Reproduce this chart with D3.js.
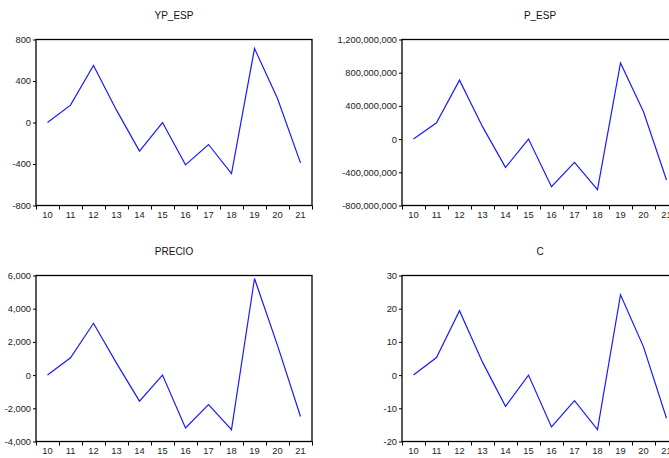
<!DOCTYPE html>
<html>
<head>
<meta charset="utf-8">
<script src="https://cdn.jsdelivr.net/npm/d3@7"></script>
<style>
  html, body { margin: 0; padding: 0; background: #fff; }
  svg { display: block; font-family: "Liberation Sans", Arial, sans-serif; }
</style>
</head>
<body>
<svg id="chart" width="669" height="458"></svg>
<script>
const categories = ["10","11","12","13","14","15","16","17","18","19","20","21"];

const ypEsp  = [0, 167, 549, 119, -276, 0, -408, -212, -492, 713, 231, -389];
const pEsp   = [0, 196e6, 710e6, 150e6, -341e6, 0, -573e6, -281e6, -610e6, 918e6, 329e6, -493e6];
const precio = [0, 1047, 3122, 720, -1571, 0, -3182, -1772, -3283, 5820, 1790, -2497];
const cVals  = [0, 5.3, 19.4, 3.9, -9.4, 0, -15.6, -7.7, -16.4, 24.2, 8.5, -13.0];

const ypTicks     = [-800, -400, 0, 400, 800];
const pTicks      = [-800e6, -400e6, 0, 400e6, 800e6, 1200e6];
const precioTicks = [-4000, -2000, 0, 2000, 4000, 6000];
const cTicks      = [-20, -10, 0, 10, 20, 30];

const panels = [
  { title: "YP_ESP", values: ypEsp,  ticks: ypTicks,     x: 36,  y: 39.5 },
  { title: "P_ESP",  values: pEsp,   ticks: pTicks,      x: 402, y: 39.5 },
  { title: "PRECIO", values: precio, ticks: precioTicks, x: 36,  y: 275.5 },
  { title: "C",      values: cVals,  ticks: cTicks,      x: 402, y: 275.5 }
];

const W = 276, H = 166;
const svg = d3.select("#chart");
const fmt = d => d3.format(",")(d).replace("\u2212", "-");

panels.forEach(p => {
  const g = svg.append("g").attr("transform", `translate(${p.x},${p.y})`);
  const xb = d3.scaleBand().domain(categories).range([0, W]);
  const xl = d3.scaleLinear().domain([0, categories.length]).range([0, W]);
  const y = d3.scaleLinear().domain([p.ticks[0], p.ticks[p.ticks.length - 1]]).range([H, 0]);

  // title
  g.append("text").attr("x", W / 2).attr("y", -21)
    .attr("text-anchor", "middle").attr("font-size", 10).attr("fill", "#111")
    .text(p.title);

  // line
  const line = d3.line()
    .x((d, i) => xb(categories[i]) + xb.bandwidth() / 2)
    .y(d => y(d));
  g.append("path").datum(p.values)
    .attr("d", line).attr("fill", "none")
    .attr("stroke", "#1a1aff").attr("stroke-width", 1.2)
    .attr("stroke-linejoin", "miter");

  // y axis
  const ya = g.append("g").call(d3.axisLeft(y).tickValues(p.ticks).tickFormat(fmt).tickSize(3).tickPadding(2));
  ya.select(".domain").remove();
  ya.selectAll("line").attr("stroke", "#000").attr("stroke-width", 1);
  ya.selectAll("text").attr("font-size", 9.3).attr("fill", "#222").attr("font-family", "Liberation Sans, Arial, sans-serif");

  // x axis boundary ticks
  const xt = g.append("g").attr("transform", `translate(0,${H})`)
    .call(d3.axisBottom(xl).tickValues(d3.range(0, categories.length + 1)).tickFormat("").tickSize(4));
  xt.select(".domain").remove();
  xt.selectAll("line").attr("stroke", "#000").attr("stroke-width", 1);

  // x labels
  const xa = g.append("g").attr("transform", `translate(0,${H})`)
    .call(d3.axisBottom(xb).tickSize(0).tickPadding(6));
  xa.select(".domain").remove();
  xa.selectAll("text").attr("font-size", 9.3).attr("fill", "#222").attr("font-family", "Liberation Sans, Arial, sans-serif");

  // frame
  g.append("rect").attr("x", 0).attr("y", 0).attr("width", W).attr("height", H)
    .attr("fill", "none").attr("stroke", "#000").attr("stroke-width", 1.3);
});
</script>
</body>
</html>
